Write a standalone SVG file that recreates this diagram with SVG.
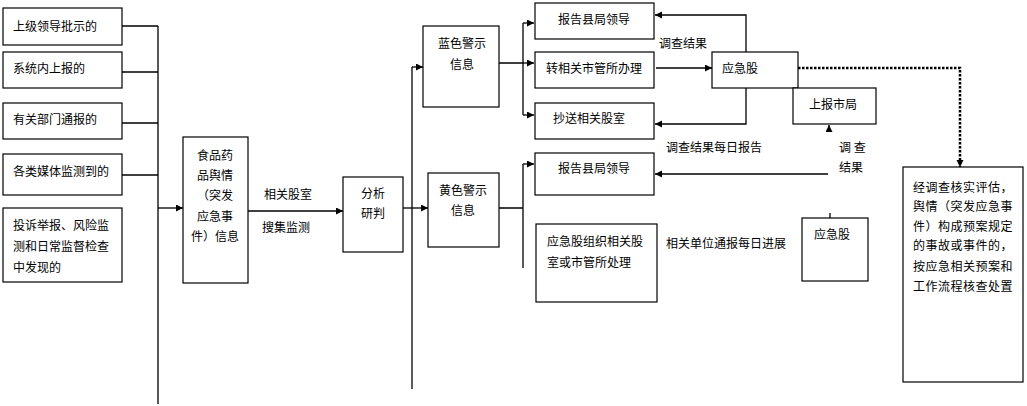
<svg xmlns="http://www.w3.org/2000/svg" width="1027" height="406" viewBox="0 0 1027 406">
<style>
.box{fill:#fff;stroke:#000;stroke-width:1.2}
.ln{fill:none;stroke:#000;stroke-width:1.3}
.arr{fill:none;stroke:#000;stroke-width:1.3;marker-end:url(#ah)}
.dot{fill:none;stroke:#000;stroke-width:2.5;stroke-dasharray:2.5 1.5;marker-end:url(#ah2)}
text{font-family:"Noto Sans CJK SC","Liberation Sans",sans-serif;font-size:12px;fill:#000;dominant-baseline:central}
.m{text-anchor:middle}
.w{letter-spacing:0.5px}
</style>
<defs>
<marker id="ah" markerUnits="userSpaceOnUse" markerWidth="8" markerHeight="8" refX="7" refY="3.5" orient="auto">
<path d="M0,0 L7,3.5 L0,7 z" fill="#000"/>
</marker>
<marker id="ah2" markerUnits="userSpaceOnUse" markerWidth="8" markerHeight="8" refX="7" refY="3.5" orient="auto">
<path d="M0,0 L7,3.5 L0,7 z" fill="#000"/>
</marker>
</defs>
<g id="connectors">
<path class="ln" d="M122,26H158M122,72H158M122,123H158M122,175H158M158,26V404"/>
<path class="arr" d="M158,208H183"/>
<path class="arr" d="M248,211H343"/>
<path class="arr" d="M403,208H428"/>
<path class="ln" d="M412,67V389"/>
<path class="arr" d="M412,67H423"/>
<path class="ln" d="M499,63H523M523,23V115M499,208H523M523,164V268"/>
<path class="arr" d="M523,23H534"/>
<path class="arr" d="M523,63H534"/>
<path class="arr" d="M523,115H534"/>
<path class="arr" d="M523,164H534"/>
<path class="arr" d="M656,68H712"/>
<path class="arr" d="M746,52V15H655"/>
<path class="arr" d="M746,88V124H655"/>
<path class="arr" d="M828,174H655"/>
<path class="arr" d="M829,132V125"/>
<path class="ln" d="M830,213V218"/>
<path class="dot" d="M798,68H960V167"/>
</g>
<g id="n1"><rect class="box" x="3" y="8" width="119" height="37"/><text x="13" y="25">上级领导批示的</text></g>
<g id="n2"><rect class="box" x="3" y="52" width="119" height="36"/><text x="13" y="67">系统内上报的</text></g>
<g id="n3"><rect class="box" x="3" y="103" width="119" height="36"/><text x="13" y="118">有关部门通报的</text></g>
<g id="n4"><rect class="box" x="3" y="154" width="119" height="41"/><text x="13" y="170">各类媒体监测到的</text></g>
<g id="n5"><rect class="box" x="3" y="208" width="119" height="74"/><text x="13" y="224">投诉举报、风险监</text><text x="13" y="245">测和日常监督检查</text><text x="13" y="266">中发现的</text></g>
<g id="food"><rect class="box" x="183" y="137" width="65" height="146"/><text class="m" x="215" y="154">食品药</text><text class="m" x="215" y="174">品舆情</text><text class="m" x="215" y="194">（突发</text><text class="m" x="215" y="215">应急事</text><text class="m" x="215" y="235">件）信息</text></g>
<g id="lbl1"><text x="264" y="193">相关股室</text><text x="262" y="226">搜集监测</text></g>
<g id="analysis"><rect class="box" x="343" y="177" width="60" height="75"/><text class="m" x="373" y="192">分析</text><text class="m" x="373" y="212">研判</text></g>
<g id="blue"><rect class="box" x="423" y="26" width="76" height="81"/><text class="m" x="462" y="42">蓝色警示</text><text class="m" x="462" y="63">信息</text></g>
<g id="yellow"><rect class="box" x="428" y="173" width="71" height="74"/><text class="m" x="463" y="189">黄色警示</text><text class="m" x="463" y="209">信息</text></g>
<g id="r1"><rect class="box" x="535" y="3" width="119" height="36"/><text class="m" x="594" y="18">报告县局领导</text></g>
<g id="r2"><rect class="box" x="535" y="52" width="119" height="36"/><text class="m" x="594" y="67">转相关市管所办理</text></g>
<g id="r3"><rect class="box" x="535" y="103" width="119" height="36"/><text class="m" x="589" y="117">抄送相关股室</text></g>
<g id="r4"><rect class="box" x="535" y="153" width="119" height="42"/><text class="m" x="594" y="167">报告县局领导</text></g>
<g id="r5"><rect class="box" x="536" y="224" width="121" height="78"/><text x="547" y="240">应急股组织相关股</text><text x="547" y="261">室或市管所处理</text></g>
<g id="yjg"><rect class="box" x="712" y="52" width="86" height="36"/><text x="722" y="67">应急股</text></g>
<g id="sbsj"><rect class="box" x="793" y="88" width="83" height="36"/><text class="m" x="833" y="103">上报市局</text></g>
<g id="yjg2"><rect class="box" x="802" y="218" width="66" height="63"/><text class="m" x="832" y="233">应急股</text></g>
<g id="final"><rect class="box" x="903" y="167" width="120" height="215"/>
<text class="w" x="913" y="186">经调查核实评估，</text>
<text class="w" x="913" y="205">舆情（突发应急事</text>
<text class="w" x="913" y="225">件）构成预案规定</text>
<text class="w" x="913" y="244">的事故或事件的，</text>
<text class="w" x="913" y="265">按应急相关预案和</text>
<text class="w" x="913" y="285">工作流程核查处置</text></g>
<g id="labels">
<text x="659" y="42">调查结果</text>
<text x="666" y="146">调查结果每日报告</text>
<text x="666" y="242">相关单位通报每日进展</text>
<text x="839" y="146">调 查</text>
<text x="839" y="166">结果</text>
</g>
</svg>
